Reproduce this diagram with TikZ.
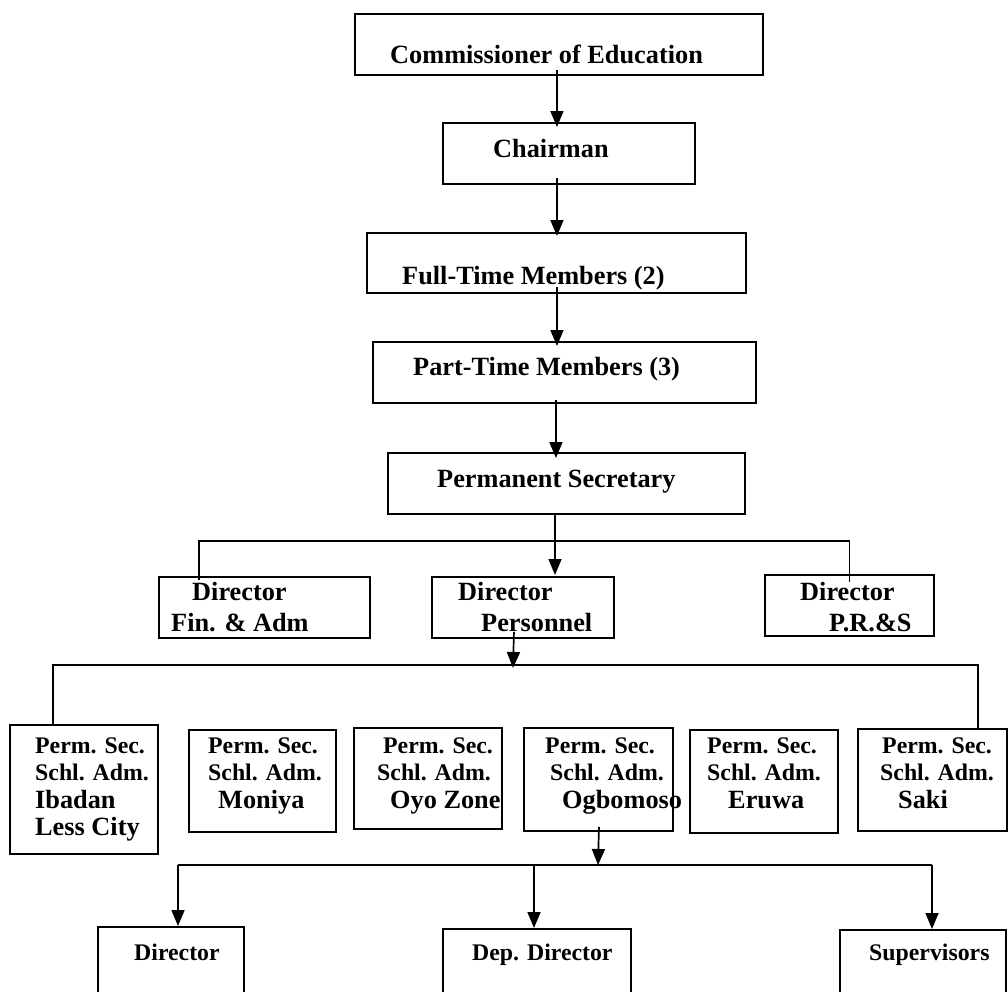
\documentclass[tikz,border=0pt]{standalone}
\usepackage{fontspec}
\setmainfont{Liberation Serif}
\usetikzlibrary{arrows.meta}
\begin{document}
\begin{tikzpicture}[x=1pt,y=-1pt,
  box/.style={draw,line width=1.9pt,rectangle,inner sep=0pt,anchor=north west},
  conn/.style={line width=1.7pt},
  arr/.style={conn,-{Triangle[length=16pt,width=13pt]}},
  tb/.style={anchor=base west,inner sep=0pt,font=\bfseries\fontsize{26.3pt}{28pt}\selectfont},
  ts/.style={anchor=base west,inner sep=0pt,font=\bfseries\fontsize{23.8pt}{26pt}\selectfont}]
\clip (0,0) rectangle (1008,991);
\fill[white] (0,0) rectangle (1008,991);
% boxes
\node[box,minimum width=408pt,minimum height=61pt] (com) at (354,13) {};
\node[box,minimum width=252pt,minimum height=61pt] (chair) at (442,122) {};
\node[box,minimum width=379pt,minimum height=60pt] (full) at (366,232) {};
\node[box,minimum width=383pt,minimum height=61pt] (part) at (372,341) {};
\node[box,minimum width=357pt,minimum height=61pt] (perm) at (387,452) {};
\node[box,minimum width=211pt,minimum height=61pt] (fin) at (158,576) {};
\node[box,minimum width=182pt,minimum height=61pt] (pers) at (431,576) {};
\node[box,minimum width=169pt,minimum height=61pt] (prs) at (764,574) {};
\node[box,minimum width=148pt,minimum height=129pt] (ib) at (9,724) {};
\node[box,minimum width=147pt,minimum height=102pt] (mon) at (188,729) {};
\node[box,minimum width=148pt,minimum height=101pt] (oyo) at (353,727) {};
\node[box,minimum width=149pt,minimum height=103pt] (ogb) at (523,727) {};
\node[box,minimum width=148pt,minimum height=103pt] (eru) at (689,729) {};
\node[box,minimum width=149pt,minimum height=102pt] (saki) at (857,728) {};
\node[box,minimum width=146pt,minimum height=90pt] (dir) at (97,926) {};
\node[box,minimum width=188pt,minimum height=90pt] (dep) at (442,928) {};
\node[box,minimum width=166pt,minimum height=90pt] (sup) at (839,929) {};
% texts
\node[tb] (tcom) at (390,63) {Commissioner of Education};
\node[tb] (tchair) at (493,157) {Chairman};
\node[tb] (tfull) at (402,284) {Full-Time Members (2)};
\node[tb] (tpart) at (413,375) {Part-Time Members (3)};
\node[tb] (tperm) at (437,487) {Permanent Secretary};
\node[tb] (tfin1) at (192,600) {Director};
\node[tb] (tfin2) at (171,631) {Fin. \& Adm};
\node[tb] (tpers1) at (458,600) {Director};
\node[tb] (tpers2) at (481,631) {Personnel};
\node[tb] (tprs1) at (800,600) {Director};
\node[tb] (tprs2) at (829,631) {P.R.\&S};
% zone boxes
\node[ts] (tib1) at (35,753) {Perm. Sec.};
\node[ts] (tib2) at (35,780) {Schl. Adm.};
\node[tb] (tib3) at (35,808) {Ibadan};
\node[tb] (tib4) at (35,835) {Less City};
\node[ts] (tmon1) at (208,753) {Perm. Sec.};
\node[ts] (tmon2) at (208,780) {Schl. Adm.};
\node[tb] (tmon3) at (218,808) {Moniya};
\node[ts] (toyo1) at (383,753) {Perm. Sec.};
\node[ts] (toyo2) at (377,780) {Schl. Adm.};
\node[tb] (toyo3) at (390,808) {Oyo Zone};
\node[ts] (togb1) at (545,753) {Perm. Sec.};
\node[ts] (togb2) at (550,780) {Schl. Adm.};
\node[tb] (togb3) at (562,808) {Ogbomoso};
\node[ts] (teru1) at (707,753) {Perm. Sec.};
\node[ts] (teru2) at (707,780) {Schl. Adm.};
\node[tb] (teru3) at (728,808) {Eruwa};
\node[ts] (tsaki1) at (882,753) {Perm. Sec.};
\node[ts] (tsaki2) at (880,780) {Schl. Adm.};
\node[tb] (tsaki3) at (898,808) {Saki};
% bottom
\node[ts] (tdir) at (134,960) {Director};
\node[ts] (tdep) at (472,960) {Dep. Director};
\node[ts] (tsup) at (869,960) {Supervisors};
% connectors
\draw[arr] ([xshift=-2pt,yshift=6pt]com.south) -- ([xshift=-12pt,yshift=-5pt]chair.north);
\draw[arr] ([xshift=-12pt,yshift=7pt]chair.south) -- ([xshift=0.5pt,yshift=-4pt]full.north);
\draw[arr] ([xshift=0.5pt,yshift=7pt]full.south) -- ([xshift=-7.5pt,yshift=-5pt]part.north);
\draw[arr] ([xshift=-8.5pt,yshift=4pt]part.south) -- ([xshift=-10.5pt,yshift=-6pt]perm.north);
\coordinate (bus1) at (555,541);
\draw[conn] (perm.south -| bus1) -- (bus1);
\draw[conn] ([xshift=-65.5pt,yshift=-4pt]fin.north) |- (bus1) -| ([yshift=-8pt]prs.north);
\draw[arr] (bus1) -- ([yshift=1pt]pers.north -| bus1);
\coordinate (bus2) at (513,665);
\draw[arr] ([xshift=-9pt,yshift=7pt]pers.south) -- ([yshift=-3pt]bus2);
\draw[conn] ([xshift=-31pt]ib.north) |- (bus2) -| ([xshift=45.5pt]saki.north);
\coordinate (bus3) at (598,865);
\draw[arr] ([xshift=0.5pt,yshift=5pt]ogb.south) -- (bus3);
\coordinate (b3l) at (178,865);
\coordinate (b3m) at (534,865);
\coordinate (b3r) at (932,865);
\draw[conn] (b3l) -- (b3r);
\draw[arr] (b3l) -- (b3l |- dir.north);
\draw[arr] (b3m) -- (b3m |- dep.north);
\draw[arr] (b3r) -- (b3r |- sup.north);
\end{tikzpicture}
\end{document}
